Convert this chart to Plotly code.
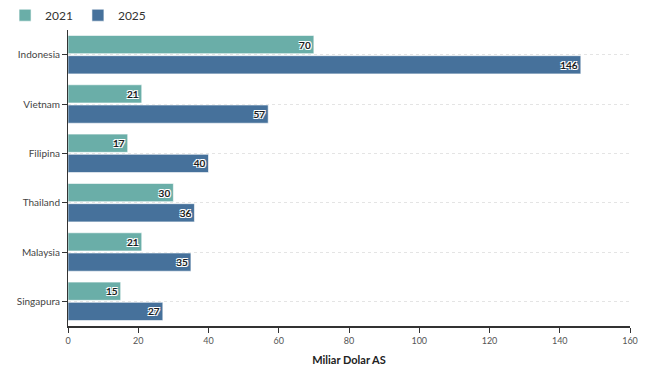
import plotly.graph_objects as go

countries = ["Indonesia", "Vietnam", "Filipina", "Thailand", "Malaysia", "Singapura"]
values_2021 = [70, 21, 17, 30, 21, 15]
values_2025 = [146, 57, 40, 36, 35, 27]
series_names = ["2021", "2025"]
colors = ["#6aaea8", "#46719b"]
x_title = "Miliar Dolar AS"

FONT = "Source Sans Pro, Lato, Noto Sans, sans-serif"
halo = "1px 1px 0px #fff, -1px -1px 0px #fff, 1px -1px 0px #fff, -1px 1px 0px #fff"

fig = go.Figure()
for name, vals, col in zip(series_names, [values_2021, values_2025], colors):
    fig.add_trace(go.Bar(
        name=name, y=countries, x=vals, orientation="h",
        marker=dict(color=col, line=dict(color="rgba(255,255,255,0.6)", width=1)),
        text=[str(v) for v in vals], textposition="inside", insidetextanchor="end",
        textangle=0, constraintext="none",
        textfont=dict(family=FONT, size=10, color="#1a1a1a", weight="bold", shadow=halo),
        hoverinfo="x+y",
    ))

fig.update_layout(
    width=645, height=358,
    margin=dict(l=60, r=23, t=22, b=40, autoexpand=False),
    paper_bgcolor="white", plot_bgcolor="white",
    barmode="group", bargap=0.18, bargroupgap=0.1,
    font=dict(family=FONT, size=10, color="#444"),
    showlegend=True,
    legend=dict(orientation="h", x=-0.112, xref="paper", xanchor="left",
                y=1.05, yref="paper", yanchor="middle",
                font=dict(size=12, color="#333"),
                itemwidth=30, tracegroupgap=0, bgcolor="rgba(0,0,0,0)"),
    xaxis=dict(range=[0, 160], dtick=20, showgrid=False, zeroline=False,
               showline=True, linecolor="#333", linewidth=1.5,
               ticks="outside", ticklen=5, tickcolor="#333",
               tickfont=dict(size=9, color="#555"), automargin=False,
               title=dict(text="<b>" + x_title + "</b>", font=dict(size=11, color="#222"), standoff=14),
               fixedrange=True),
    yaxis=dict(autorange="reversed", showgrid=True, gridcolor="#e4e4e4", griddash="dot", gridwidth=1,
               showline=True, linecolor="#333", linewidth=1, zeroline=False,
               ticks="outside", ticklen=5, tickcolor="#333", automargin=False,
               tickfont=dict(size=10, color="#444"), fixedrange=True),
)

fig.write_html("out.html")
